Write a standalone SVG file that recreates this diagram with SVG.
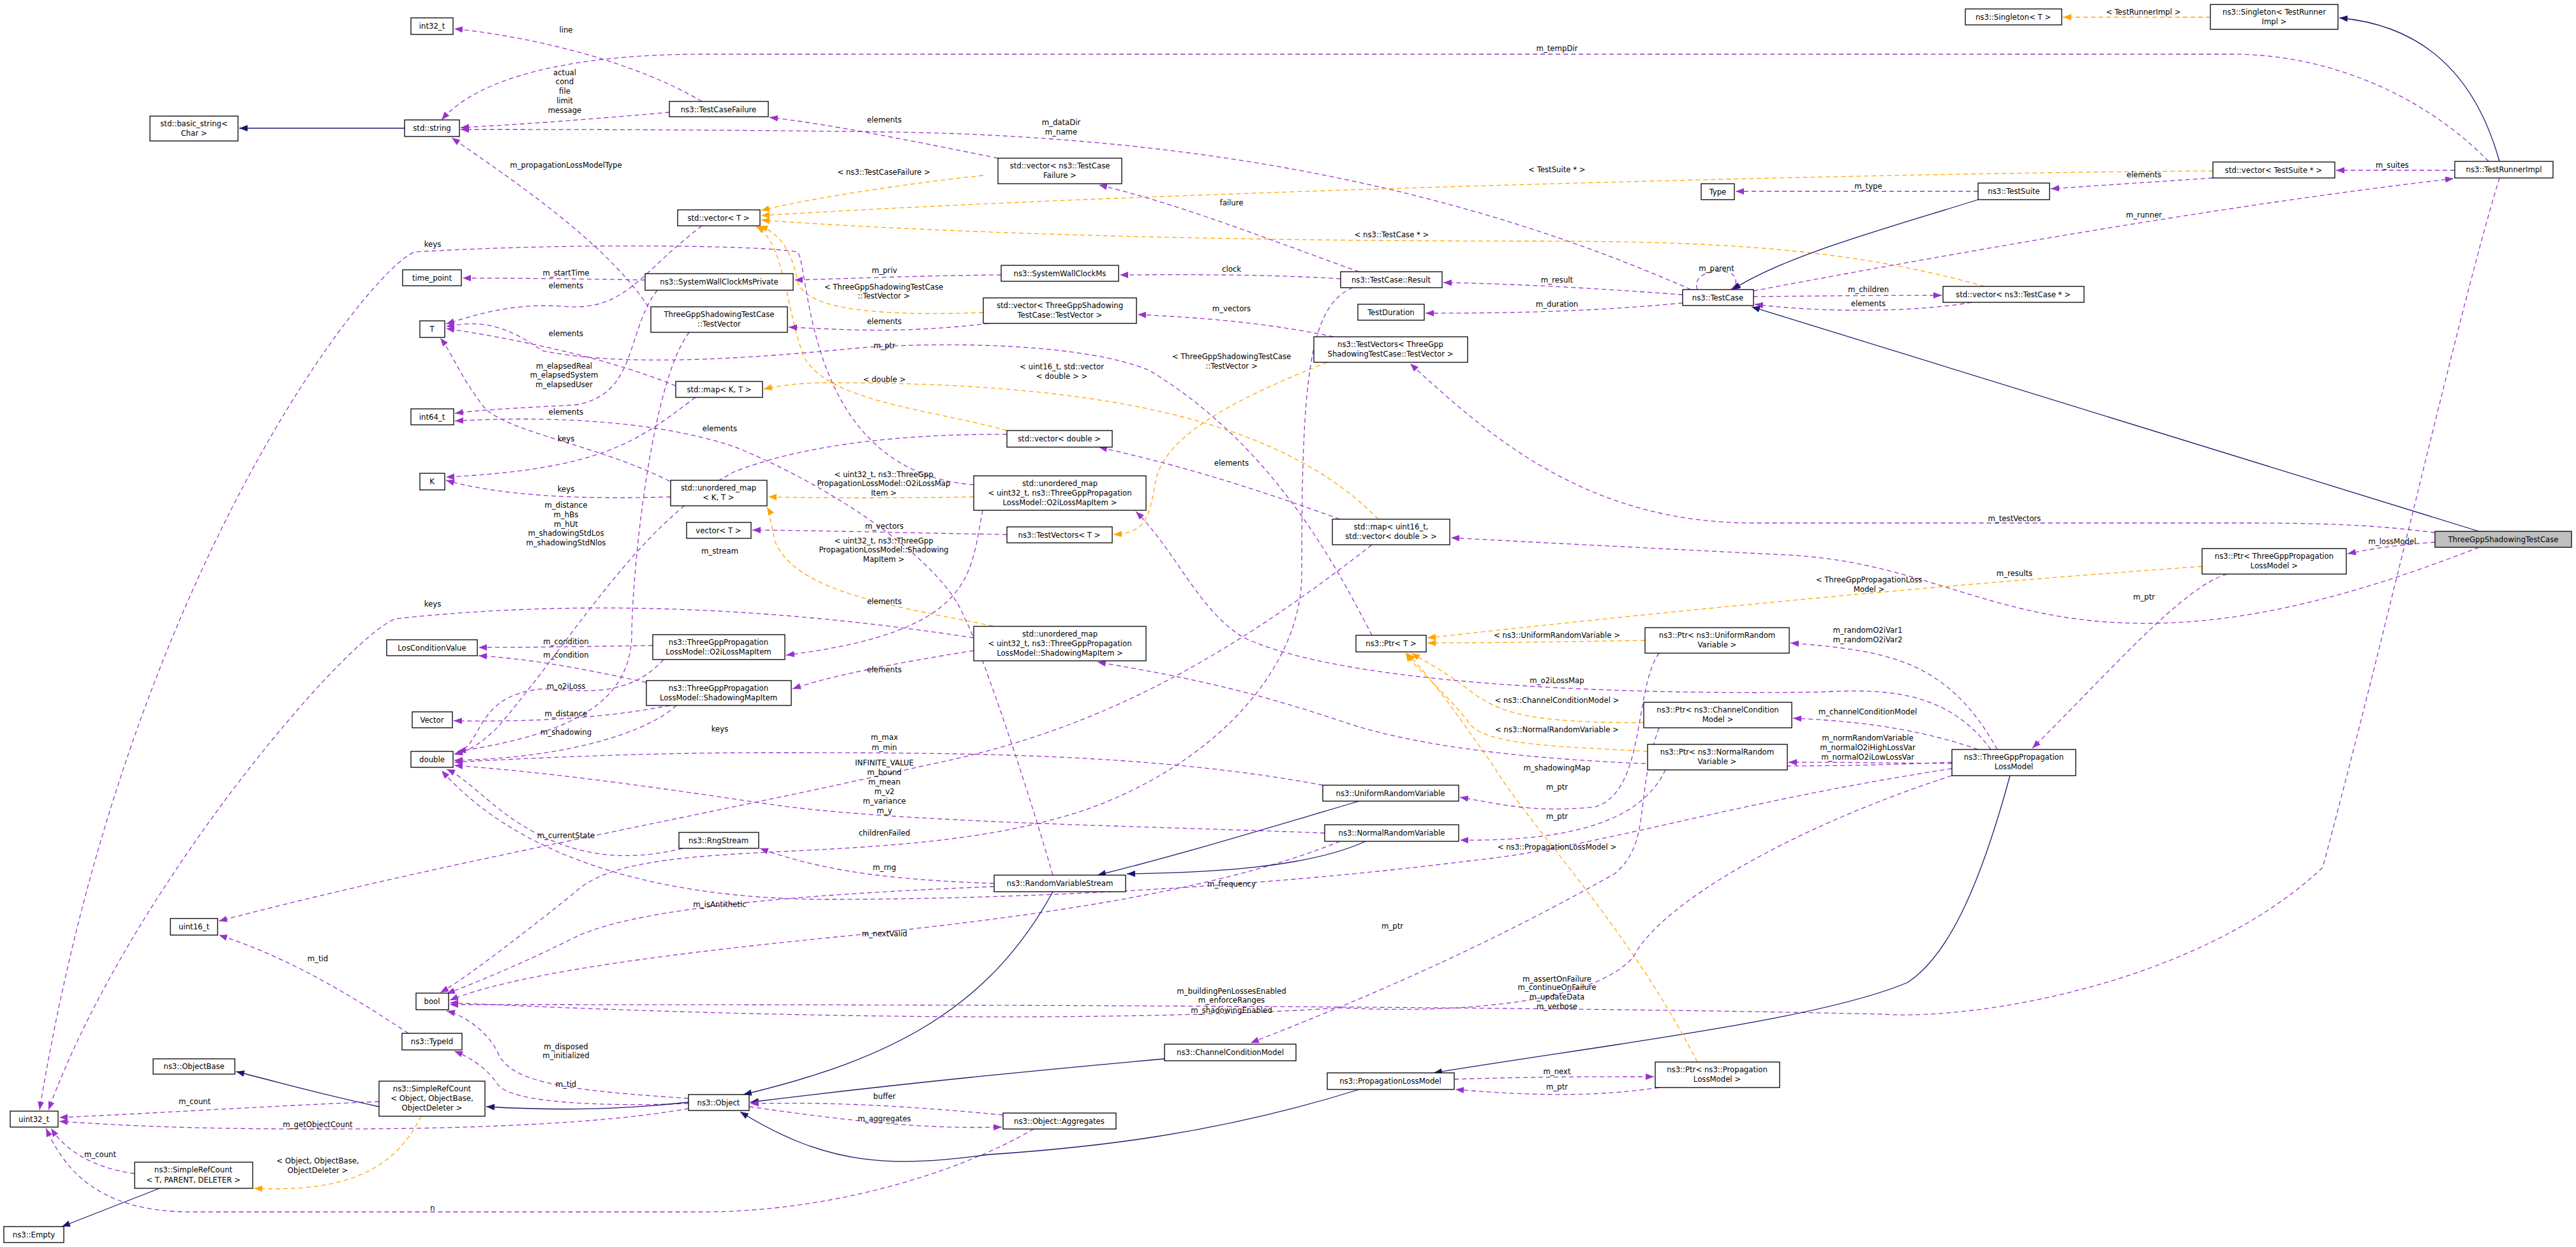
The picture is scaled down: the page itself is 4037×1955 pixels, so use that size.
<svg xmlns="http://www.w3.org/2000/svg" width="4037" height="1955" viewBox="0 0 4037 1955">
<style>
text{font-family:"DejaVu Sans Condensed","DejaVu Sans",sans-serif;font-size:13px;fill:#000;text-anchor:middle}
.n rect{fill:#fff;stroke:#000;stroke-width:1.3}
.n.h rect{fill:#bfbfbf}
.p{fill:none;stroke:#9a32cd;stroke-width:1.3;stroke-dasharray:7,5;marker-end:url(#ap)}
.o{fill:none;stroke:#ffa500;stroke-width:1.3;stroke-dasharray:7,5;marker-end:url(#ao)}
.b{fill:none;stroke:#191970;stroke-width:1.3;marker-end:url(#ab)}
</style>
<defs>
<marker id="ap" markerWidth="14" markerHeight="10" refX="13" refY="5" orient="auto" markerUnits="userSpaceOnUse"><path d="M0,0L13,5L0,10Z" fill="#9a32cd"/></marker>
<marker id="ao" markerWidth="14" markerHeight="10" refX="13" refY="5" orient="auto" markerUnits="userSpaceOnUse"><path d="M0,0L13,5L0,10Z" fill="#ffa500"/></marker>
<marker id="ab" markerWidth="14" markerHeight="10" refX="13" refY="5" orient="auto" markerUnits="userSpaceOnUse"><path d="M0,0L13,5L0,10Z" fill="#191970"/></marker>
</defs>
<rect width="4037" height="1955" fill="#fff"/>
<g id="edges">
<path class="p" d="M1100,159C1000,100 850,60 712,45"/>
<path class="p" d="M1049,176C950,185 820,195 722,200"/>
<path class="p" d="M2650,454C2300,300 1900,215 1400,207C1100,203 900,203 722,203"/>
<path class="p" d="M3900,253C3800,150 3650,85 3500,85L1100,85C900,85 750,120 692,188"/>
<path class="p" d="M1564,248C1400,215 1300,195 1206,184"/>
<path class="b" d="M634,201L375,201"/>
<path class="p" d="M1016,481C950,380 800,280 708,216"/>
<path class="o" d="M1541,275C1400,290 1250,315 1193,330"/>
<path class="o" d="M3468,268C3000,270 1800,300 1193,338"/>
<path class="o" d="M3110,449C2900,390 2700,378 2400,378C1800,378 1400,360 1193,345"/>
<path class="o" d="M1541,490C1400,495 1260,490 1250,440C1240,390 1220,365 1190,354"/>
<path class="o" d="M1578,675C1450,640 1300,630 1260,560C1230,480 1230,380 1185,355"/>
<path class="p" d="M2130,426C2000,380 1850,320 1722,290"/>
<path class="p" d="M2101,437C2000,431 1900,430 1755,431"/>
<path class="p" d="M1569,431C1450,432 1350,436 1245,439"/>
<path class="p" d="M1011,439C900,437 800,436 725,436"/>
<path class="p" d="M1030,455C980,520 1000,620 900,635C800,640 750,643 713,648"/>
<path class="p" d="M1100,354C1000,430 980,490 880,480C800,475 740,495 699,508"/>
<path class="p" d="M2637,462C2500,452 2380,445 2262,443"/>
<path class="p" d="M2637,475C2500,488 2380,491 2234,491"/>
<path class="p" d="M2660,454C2650,425 2700,420 2715,430C2725,440 2720,450 2712,454"/>
<path class="p" d="M2748,456C3100,390 3500,320 3845,280"/>
<path class="p" d="M3847,267L3661,267"/>
<path class="p" d="M3468,279C3380,285 3300,290 3214,296"/>
<path class="p" d="M3100,300L2720,300"/>
<path class="b" d="M3100,313C2950,360 2800,400 2715,454"/>
<path class="p" d="M2748,465C2850,464 2950,463 3043,463"/>
<path class="p" d="M3090,474C3000,490 2850,490 2750,477"/>
<path class="b" d="M3885,833L2745,481"/>
<path class="b" d="M3917,253C3880,120 3800,40 3666,28"/>
<path class="o" d="M3464,27L3233,27"/>
<path class="p" d="M2090,528C1980,505 1880,498 1783,493"/>
<path class="p" d="M1550,507C1400,525 1300,515 1236,513"/>
<path class="o" d="M2080,568C1950,620 1820,680 1810,760C1800,820 1790,835 1745,838"/>
<path class="p" d="M3816,835C3700,820 3600,820 3500,820L2750,820C2500,820 2350,700 2210,570"/>
<path class="p" d="M3816,850C3750,855 3720,860 3679,868"/>
<path class="p" d="M3885,858C3700,930 3500,990 3300,975C3100,960 3000,880 2800,870C2600,860 2400,850 2274,843"/>
<path class="o" d="M3451,888C3000,920 2600,960 2237,1000"/>
<path class="p" d="M3490,900C3420,920 3300,1060 3185,1173"/>
<path class="p" d="M3917,279C3850,500 3750,950 3640,1360C3450,1540 3100,1600 2950,1590C2300,1575 1200,1575 705,1575"/>
<path class="o" d="M2160,814C2000,650 1700,600 1300,600C1250,600 1220,605 1197,610"/>
<path class="p" d="M2100,814C1950,760 1850,730 1722,701"/>
<path class="p" d="M2150,854C1900,1050 1700,1150 1450,1200C1100,1280 700,1350 343,1444"/>
<path class="p" d="M1578,681C1400,680 1250,700 1150,740C1000,820 900,1000 780,1140C750,1170 730,1178 712,1183"/>
<path class="p" d="M1059,605C950,560 800,530 699,515"/>
<path class="p" d="M1090,623C1000,690 950,735 699,748"/>
<path class="p" d="M1060,760C950,700 800,680 760,640C720,590 710,555 690,530"/>
<path class="p" d="M1051,779C950,782 800,782 699,753"/>
<path class="o" d="M1526,779C1400,781 1300,781 1204,779"/>
<path class="o" d="M1580,986C1400,950 1250,930 1215,850C1208,820 1205,800 1202,795"/>
<path class="p" d="M1578,838C1400,835 1300,832 1179,831"/>
<path class="p" d="M3120,1175C3050,1080 2950,1080 2850,1085C2500,1090 2100,1070 1950,1000C1880,960 1840,860 1780,802"/>
<path class="p" d="M3059,1195C2700,1210 2300,1200 2100,1130C1950,1080 1850,1060 1720,1038"/>
<path class="p" d="M1540,800C1520,900 1530,990 1232,1027"/>
<path class="p" d="M1526,1020C1400,1040 1300,1060 1242,1080"/>
<path class="p" d="M1526,760C1260,740 1270,420 1250,395C1200,385 900,380 650,395C580,420 200,900 62,1740"/>
<path class="p" d="M1526,1000C1200,950 900,940 620,970C540,1000 200,1400 76,1740"/>
<path class="p" d="M1023,1012C900,1014 820,1015 750,1015"/>
<path class="p" d="M1013,1070C900,1045 820,1032 750,1028"/>
<path class="p" d="M1040,1034C980,1100 900,1080 850,1080C740,1090 760,1170 712,1182"/>
<path class="p" d="M1050,1106C950,1125 850,1132 711,1130"/>
<path class="p" d="M1060,1106C1000,1160 850,1190 712,1192"/>
<path class="p" d="M1080,521C1020,600 990,900 990,1000C985,1100 900,1150 717,1178"/>
<path class="p" d="M1070,1330C950,1360 850,1330 760,1250C735,1230 720,1215 700,1206"/>
<path class="p" d="M2073,1231C1800,1180 1500,1180 1200,1180C1000,1180 800,1190 712,1195"/>
<path class="p" d="M2076,1306C1800,1295 1400,1290 1200,1260C1000,1230 850,1210 712,1200"/>
<path class="p" d="M2120,451C2050,480 2040,600 2040,900C2040,1050 1900,1200 1700,1270C1400,1370 1000,1300 900,1400C800,1480 720,1540 690,1556"/>
<path class="p" d="M1558,1385C1420,1380 1300,1370 1191,1330"/>
<path class="p" d="M1558,1390C1300,1400 1000,1420 900,1470C800,1520 720,1550 700,1558"/>
<path class="p" d="M2100,1319C1900,1400 1600,1440 1300,1470C1000,1500 800,1530 705,1568"/>
<path class="b" d="M2130,1256C1980,1300 1850,1340 1720,1372"/>
<path class="b" d="M2140,1319C2050,1360 1900,1368 1766,1370"/>
<path class="b" d="M1650,1398C1550,1580 1400,1660 1165,1716"/>
<path class="b" d="M1825,1660C1600,1680 1400,1700 1176,1728"/>
<path class="b" d="M2130,1708C1900,1780 1700,1800 1550,1810C1400,1830 1300,1830 1160,1743"/>
<path class="b" d="M3150,1216C3100,1400 3050,1500 2990,1540C2850,1600 2500,1640 2247,1682"/>
<path class="p" d="M2279,1692C2400,1688 2500,1688 2592,1688"/>
<path class="p" d="M2600,1705C2500,1720 2400,1718 2281,1708"/>
<path class="o" d="M2660,1665C2550,1450 2400,1300 2340,1200C2290,1130 2250,1070 2205,1024"/>
<path class="o" d="M2578,1004C2450,1006 2350,1008 2237,1008"/>
<path class="o" d="M2576,1133C2400,1133 2350,1120 2300,1080C2260,1050 2230,1035 2212,1024"/>
<path class="o" d="M2582,1178C2450,1170 2320,1170 2300,1130C2260,1080 2220,1050 2203,1024"/>
<path class="p" d="M2150,996C2100,900 2000,700 1800,580C1700,540 1500,535 1350,545C1100,570 950,570 850,550C780,500 740,505 699,512"/>
<path class="p" d="M3130,1175C3050,1030 2950,1020 2806,1008"/>
<path class="p" d="M3100,1175C3000,1140 2900,1130 2810,1126"/>
<path class="p" d="M3059,1197C2950,1196 2880,1195 2803,1195"/>
<path class="p" d="M2600,1024C2560,1080 2580,1240 2500,1265C2400,1275 2350,1260 2288,1250"/>
<path class="p" d="M2610,1207C2580,1270 2500,1320 2288,1317"/>
<path class="p" d="M2600,1141C2560,1250 2590,1320 2530,1370C2300,1500 2100,1580 1960,1635"/>
<path class="p" d="M3059,1216C2800,1300 2600,1420 2560,1500C2500,1570 2300,1590 2100,1580C1800,1600 1300,1600 705,1572"/>
<path class="p" d="M3059,1205C2700,1260 2500,1330 2300,1350C1900,1400 1500,1410 1300,1410C1000,1410 800,1330 692,1208"/>
<path class="p" d="M1650,1372C1600,1200 1530,1000 1512,970C1480,880 1300,760 1150,700C1000,650 800,655 713,660"/>
<path class="p" d="M1079,1722C900,1710 800,1700 780,1650C760,1610 720,1590 700,1585"/>
<path class="p" d="M1079,1730C950,1735 800,1730 780,1700C760,1670 730,1655 712,1648"/>
<path class="p" d="M640,1620C550,1560 450,1500 343,1466"/>
<path class="p" d="M594,1727C400,1735 250,1745 93,1752"/>
<path class="p" d="M1079,1738C900,1770 600,1770 500,1770C300,1770 200,1765 93,1758"/>
<path class="p" d="M211,1840C140,1830 100,1800 80,1769"/>
<path class="o" d="M660,1750C620,1830 550,1870 398,1863"/>
<path class="b" d="M250,1863L97,1923"/>
<path class="b" d="M594,1735C500,1715 450,1700 370,1680"/>
<path class="b" d="M1079,1728C950,1742 850,1740 762,1735"/>
<path class="p" d="M1174,1735C1350,1760 1450,1770 1570,1767"/>
<path class="p" d="M1572,1748C1400,1732 1300,1728 1176,1730"/>
<path class="p" d="M1620,1770C1500,1840 1300,1900 1100,1900L300,1900C150,1900 100,1830 72,1769"/>
</g>
<g id="labels">
<text x="887" y="51">line</text>
<text x="885" y="118">actual</text><text x="885" y="132">cond</text><text x="885" y="147">file</text><text x="885" y="162">limit</text><text x="885" y="177">message</text>
<text x="887" y="263">m_propagationLossModelType</text>
<text x="1385" y="274">&lt; ns3::TestCaseFailure &gt;</text>
<text x="678" y="387">keys</text>
<text x="887" y="432">m_startTime</text>
<text x="887" y="452">elements</text>
<text x="1385" y="454">&lt; ThreeGppShadowingTestCase</text><text x="1385" y="468">::TestVector &gt;</text>
<text x="887" y="527">elements</text>
<text x="884" y="578">m_elapsedReal</text><text x="884" y="592">m_elapsedSystem</text><text x="884" y="607">m_elapsedUser</text>
<text x="887" y="650">elements</text>
<text x="887" y="692">keys</text>
<text x="1128" y="676">elements</text>
<text x="887" y="771">keys</text>
<text x="887" y="796">m_distance</text><text x="887" y="811">m_hBs</text><text x="887" y="826">m_hUt</text><text x="887" y="840">m_shadowingStdLos</text><text x="887" y="855">m_shadowingStdNlos</text>
<text x="1385" y="748">&lt; uint32_t, ns3::ThreeGpp</text><text x="1385" y="762">PropagationLossModel::O2iLossMap</text><text x="1385" y="777">Item &gt;</text>
<text x="1128" y="868">m_stream</text>
<text x="1385" y="852">&lt; uint32_t, ns3::ThreeGpp</text><text x="1385" y="866">PropagationLossModel::Shadowing</text><text x="1385" y="881">MapItem &gt;</text>
<text x="678" y="951">keys</text>
<text x="1386" y="192">elements</text>
<text x="1663" y="196">m_dataDir</text><text x="1663" y="211">m_name</text>
<text x="2440" y="80">m_tempDir</text>
<text x="1930" y="322">failure</text>
<text x="2440" y="270">&lt; TestSuite * &gt;</text>
<text x="2181" y="372">&lt; ns3::TestCase * &gt;</text>
<text x="1386" y="428">m_priv</text>
<text x="1930" y="426">clock</text>
<text x="2440" y="443">m_result</text>
<text x="2440" y="481">m_duration</text>
<text x="1930" y="488">m_vectors</text>
<text x="1386" y="508">elements</text>
<text x="1386" y="546">m_ptr</text>
<text x="1930" y="563">&lt; ThreeGppShadowingTestCase</text><text x="1930" y="578">::TestVector &gt;</text>
<text x="1664" y="579">&lt; uint16_t, std::vector</text><text x="1664" y="594">&lt; double &gt; &gt;</text>
<text x="1386" y="599">&lt; double &gt;</text>
<text x="1930" y="730">elements</text>
<text x="1386" y="829">m_vectors</text>
<text x="1386" y="947">elements</text>
<text x="2690" y="425">m_parent</text>
<text x="3359" y="23">&lt; TestRunnerImpl &gt;</text>
<text x="3749" y="263">m_suites</text>
<text x="3360" y="278">elements</text>
<text x="2928" y="296">m_type</text>
<text x="3360" y="341">m_runner</text>
<text x="2928" y="458">m_children</text>
<text x="2928" y="480">elements</text>
<text x="3157" y="817">m_testVectors</text>
<text x="3749" y="853">m_lossModel</text>
<text x="3157" y="903">m_results</text>
<text x="2929" y="913">&lt; ThreeGppPropagationLoss</text><text x="2929" y="928">Model &gt;</text>
<text x="3360" y="940">m_ptr</text>
<text x="887" y="1010">m_condition</text>
<text x="887" y="1031">m_condition</text>
<text x="887" y="1080">m_o2iLoss</text>
<text x="887" y="1123">m_distance</text>
<text x="887" y="1152">m_shadowing</text>
<text x="1128" y="1147">keys</text>
<text x="887" y="1314">m_currentState</text>
<text x="1128" y="1422">m_isAntithetic</text>
<text x="498" y="1507">m_tid</text>
<text x="887" y="1645">m_disposed</text><text x="887" y="1659">m_initialized</text>
<text x="887" y="1704">m_tid</text>
<text x="305" y="1731">m_count</text>
<text x="498" y="1767">m_getObjectCount</text>
<text x="157" y="1814">m_count</text>
<text x="498" y="1824">&lt; Object, ObjectBase,</text><text x="498" y="1839">ObjectDeleter &gt;</text>
<text x="678" y="1898">n</text>
<text x="1386" y="1054">elements</text>
<text x="1386" y="1160">m_max</text><text x="1386" y="1176">m_min</text>
<text x="1386" y="1200">INFINITE_VALUE</text><text x="1386" y="1215">m_bound</text><text x="1386" y="1230">m_mean</text><text x="1386" y="1245">m_v2</text><text x="1386" y="1260">m_variance</text><text x="1386" y="1275">m_y</text>
<text x="1386" y="1310">childrenFailed</text>
<text x="1386" y="1364">m_rng</text>
<text x="1930" y="1390">m_frequency</text>
<text x="1386" y="1468">m_nextValid</text>
<text x="1930" y="1558">m_buildingPenLossesEnabled</text><text x="1930" y="1572">m_enforceRanges</text><text x="1930" y="1588">m_shadowingEnabled</text>
<text x="2182" y="1456">m_ptr</text>
<text x="1386" y="1723">buffer</text>
<text x="1386" y="1758">m_aggregates</text>
<text x="2440" y="1000">&lt; ns3::UniformRandomVariable &gt;</text>
<text x="2440" y="1071">m_o2iLossMap</text>
<text x="2440" y="1102">&lt; ns3::ChannelConditionModel &gt;</text>
<text x="2440" y="1148">&lt; ns3::NormalRandomVariable &gt;</text>
<text x="2440" y="1208">m_shadowingMap</text>
<text x="2440" y="1238">m_ptr</text>
<text x="2440" y="1284">m_ptr</text>
<text x="2440" y="1332">&lt; ns3::PropagationLossModel &gt;</text>
<text x="2440" y="1539">m_assertOnFailure</text><text x="2440" y="1552">m_continueOnFailure</text><text x="2440" y="1567">m_updateData</text><text x="2440" y="1582">m_verbose</text>
<text x="2440" y="1684">m_next</text>
<text x="2440" y="1708">m_ptr</text>
<text x="2927" y="992">m_randomO2iVar1</text><text x="2927" y="1007">m_randomO2iVar2</text>
<text x="2927" y="1120">m_channelConditionModel</text>
<text x="2927" y="1161">m_normRandomVariable</text><text x="2927" y="1176">m_normalO2iHighLossVar</text><text x="2927" y="1191">m_normalO2iLowLossVar</text>
</g>
<g id="n1" class="n"><rect x="644" y="28" width="66" height="26"/><text x="677" y="45">int32_t</text></g>
<g id="n2" class="n"><rect x="235" y="182" width="138" height="39"/><text x="304" y="198">std::basic_string&lt;</text><text x="304" y="213">Char &gt;</text></g>
<g id="n3" class="n"><rect x="634" y="188" width="86" height="26"/><text x="677" y="205">std::string</text></g>
<g id="n4" class="n"><rect x="1049" y="159" width="155" height="24"/><text x="1126" y="176">ns3::TestCaseFailure</text></g>
<g id="n5" class="n"><rect x="1062" y="329" width="129" height="25"/><text x="1126" y="346">std::vector&lt; T &gt;</text></g>
<g id="n6" class="n"><rect x="631" y="423" width="92" height="25"/><text x="677" y="440">time_point</text></g>
<g id="n7" class="n"><rect x="1011" y="429" width="232" height="26"/><text x="1127" y="446">ns3::SystemWallClockMsPrivate</text></g>
<g id="n8" class="n"><rect x="1020" y="481" width="214" height="40"/><text x="1127" y="497">ThreeGppShadowingTestCase</text><text x="1127" y="512">::TestVector</text></g>
<g id="n9" class="n"><rect x="658" y="503" width="39" height="26"/><text x="677" y="520">T</text></g>
<g id="n10" class="n"><rect x="1059" y="598" width="136" height="25"/><text x="1127" y="615">std::map&lt; K, T &gt;</text></g>
<g id="n11" class="n"><rect x="644" y="641" width="67" height="25"/><text x="677" y="658">int64_t</text></g>
<g id="n12" class="n"><rect x="658" y="742" width="39" height="26"/><text x="677" y="759">K</text></g>
<g id="n13" class="n"><rect x="1051" y="753" width="151" height="40"/><text x="1126" y="769">std::unordered_map</text><text x="1126" y="784">&lt; K, T &gt;</text></g>
<g id="n14" class="n"><rect x="1076" y="819" width="101" height="25"/><text x="1126" y="836">vector&lt; T &gt;</text></g>
<g id="n15" class="n"><rect x="1564" y="248" width="194" height="40"/><text x="1661" y="264">std::vector&lt; ns3::TestCase</text><text x="1661" y="279">Failure &gt;</text></g>
<g id="n16" class="n"><rect x="1569" y="416" width="184" height="25"/><text x="1661" y="433">ns3::SystemWallClockMs</text></g>
<g id="n17" class="n"><rect x="1541" y="467" width="240" height="40"/><text x="1661" y="483">std::vector&lt; ThreeGppShadowing</text><text x="1661" y="498">TestCase::TestVector &gt;</text></g>
<g id="n18" class="n"><rect x="2101" y="426" width="159" height="25"/><text x="2180" y="443">ns3::TestCase::Result</text></g>
<g id="n19" class="n"><rect x="2128" y="477" width="104" height="25"/><text x="2180" y="494">TestDuration</text></g>
<g id="n20" class="n"><rect x="2059" y="528" width="241" height="40"/><text x="2179" y="544">ns3::TestVectors&lt; ThreeGpp</text><text x="2179" y="559">ShadowingTestCase::TestVector &gt;</text></g>
<g id="n21" class="n"><rect x="1578" y="675" width="165" height="26"/><text x="1660" y="692">std::vector&lt; double &gt;</text></g>
<g id="n22" class="n"><rect x="1526" y="746" width="270" height="54"/><text x="1661" y="762">std::unordered_map</text><text x="1661" y="777">&lt; uint32_t, ns3::ThreeGppPropagation</text><text x="1661" y="792">LossModel::O2iLossMapItem &gt;</text></g>
<g id="n23" class="n"><rect x="1578" y="826" width="165" height="25"/><text x="1660" y="843">ns3::TestVectors&lt; T &gt;</text></g>
<g id="n24" class="n"><rect x="2088" y="814" width="184" height="40"/><text x="2180" y="830">std::map&lt; uint16_t,</text><text x="2180" y="845">std::vector&lt; double &gt; &gt;</text></g>
<g id="n25" class="n"><rect x="2666" y="288" width="52" height="25"/><text x="2692" y="305">Type</text></g>
<g id="n26" class="n"><rect x="3080" y="14" width="151" height="25"/><text x="3155" y="31">ns3::Singleton&lt; T &gt;</text></g>
<g id="n27" class="n"><rect x="3464" y="7" width="200" height="39"/><text x="3564" y="23">ns3::Singleton&lt; TestRunner</text><text x="3564" y="38">Impl &gt;</text></g>
<g id="n28" class="n"><rect x="3100" y="287" width="112" height="26"/><text x="3156" y="304">ns3::TestSuite</text></g>
<g id="n29" class="n"><rect x="3468" y="254" width="191" height="25"/><text x="3563" y="271">std::vector&lt; TestSuite * &gt;</text></g>
<g id="n30" class="n"><rect x="3847" y="253" width="154" height="26"/><text x="3924" y="270">ns3::TestRunnerImpl</text></g>
<g id="n31" class="n"><rect x="2637" y="454" width="111" height="25"/><text x="2692" y="471">ns3::TestCase</text></g>
<g id="n32" class="n"><rect x="3045" y="449" width="221" height="25"/><text x="3155" y="466">std::vector&lt; ns3::TestCase * &gt;</text></g>
<g id="n33" class="n h"><rect x="3816" y="833" width="214" height="25"/><text x="3923" y="850">ThreeGppShadowingTestCase</text></g>
<g id="n34" class="n"><rect x="3451" y="860" width="226" height="40"/><text x="3564" y="876">ns3::Ptr&lt; ThreeGppPropagation</text><text x="3564" y="891">LossModel &gt;</text></g>
<g id="n35" class="n"><rect x="606" y="1003" width="142" height="25"/><text x="677" y="1020">LosConditionValue</text></g>
<g id="n36" class="n"><rect x="1023" y="995" width="207" height="39"/><text x="1126" y="1011">ns3::ThreeGppPropagation</text><text x="1126" y="1026">LossModel::O2iLossMapItem</text></g>
<g id="n37" class="n"><rect x="1013" y="1067" width="227" height="39"/><text x="1126" y="1083">ns3::ThreeGppPropagation</text><text x="1126" y="1098">LossModel::ShadowingMapItem</text></g>
<g id="n38" class="n"><rect x="646" y="1116" width="63" height="25"/><text x="677" y="1133">Vector</text></g>
<g id="n39" class="n"><rect x="644" y="1178" width="66" height="25"/><text x="677" y="1195">double</text></g>
<g id="n40" class="n"><rect x="1064" y="1305" width="125" height="25"/><text x="1126" y="1322">ns3::RngStream</text></g>
<g id="n41" class="n"><rect x="267" y="1440" width="74" height="26"/><text x="304" y="1457">uint16_t</text></g>
<g id="n42" class="n"><rect x="652" y="1557" width="51" height="26"/><text x="677" y="1574">bool</text></g>
<g id="n43" class="n"><rect x="630" y="1620" width="94" height="26"/><text x="677" y="1637">ns3::TypeId</text></g>
<g id="n44" class="n"><rect x="240" y="1660" width="128" height="24"/><text x="304" y="1676">ns3::ObjectBase</text></g>
<g id="n45" class="n"><rect x="594" y="1695" width="166" height="55"/><text x="677" y="1711">ns3::SimpleRefCount</text><text x="677" y="1726">&lt; Object, ObjectBase,</text><text x="677" y="1741">ObjectDeleter &gt;</text></g>
<g id="n46" class="n"><rect x="1079" y="1716" width="95" height="25"/><text x="1126" y="1733">ns3::Object</text></g>
<g id="n47" class="n"><rect x="16" y="1742" width="75" height="25"/><text x="53" y="1759">uint32_t</text></g>
<g id="n48" class="n"><rect x="211" y="1822" width="185" height="41"/><text x="303" y="1838">ns3::SimpleRefCount</text><text x="303" y="1854">&lt; T, PARENT, DELETER &gt;</text></g>
<g id="n49" class="n"><rect x="6" y="1923" width="94" height="25"/><text x="53" y="1940">ns3::Empty</text></g>
<g id="n50" class="n"><rect x="1526" y="982" width="270" height="54"/><text x="1661" y="998">std::unordered_map</text><text x="1661" y="1013">&lt; uint32_t, ns3::ThreeGppPropagation</text><text x="1661" y="1028">LossModel::ShadowingMapItem &gt;</text></g>
<g id="n51" class="n"><rect x="2125" y="996" width="110" height="26"/><text x="2180" y="1013">ns3::Ptr&lt; T &gt;</text></g>
<g id="n52" class="n"><rect x="2073" y="1231" width="213" height="25"/><text x="2179" y="1248">ns3::UniformRandomVariable</text></g>
<g id="n53" class="n"><rect x="2076" y="1293" width="210" height="26"/><text x="2181" y="1310">ns3::NormalRandomVariable</text></g>
<g id="n54" class="n"><rect x="1558" y="1372" width="206" height="26"/><text x="1661" y="1389">ns3::RandomVariableStream</text></g>
<g id="n55" class="n"><rect x="1825" y="1637" width="206" height="26"/><text x="1928" y="1654">ns3::ChannelConditionModel</text></g>
<g id="n56" class="n"><rect x="2080" y="1682" width="199" height="26"/><text x="2179" y="1699">ns3::PropagationLossModel</text></g>
<g id="n57" class="n"><rect x="1572" y="1745" width="177" height="25"/><text x="1660" y="1762">ns3::Object::Aggregates</text></g>
<g id="n58" class="n"><rect x="2578" y="984" width="226" height="40"/><text x="2691" y="1000">ns3::Ptr&lt; ns3::UniformRandom</text><text x="2691" y="1015">Variable &gt;</text></g>
<g id="n59" class="n"><rect x="2576" y="1101" width="232" height="40"/><text x="2692" y="1117">ns3::Ptr&lt; ns3::ChannelCondition</text><text x="2692" y="1132">Model &gt;</text></g>
<g id="n60" class="n"><rect x="2582" y="1167" width="219" height="40"/><text x="2691" y="1183">ns3::Ptr&lt; ns3::NormalRandom</text><text x="2691" y="1198">Variable &gt;</text></g>
<g id="n61" class="n"><rect x="2594" y="1665" width="195" height="40"/><text x="2691" y="1681">ns3::Ptr&lt; ns3::Propagation</text><text x="2691" y="1696">LossModel &gt;</text></g>
<g id="n62" class="n"><rect x="3059" y="1175" width="194" height="41"/><text x="3156" y="1191">ns3::ThreeGppPropagation</text><text x="3156" y="1206">LossModel</text></g>
</svg>
